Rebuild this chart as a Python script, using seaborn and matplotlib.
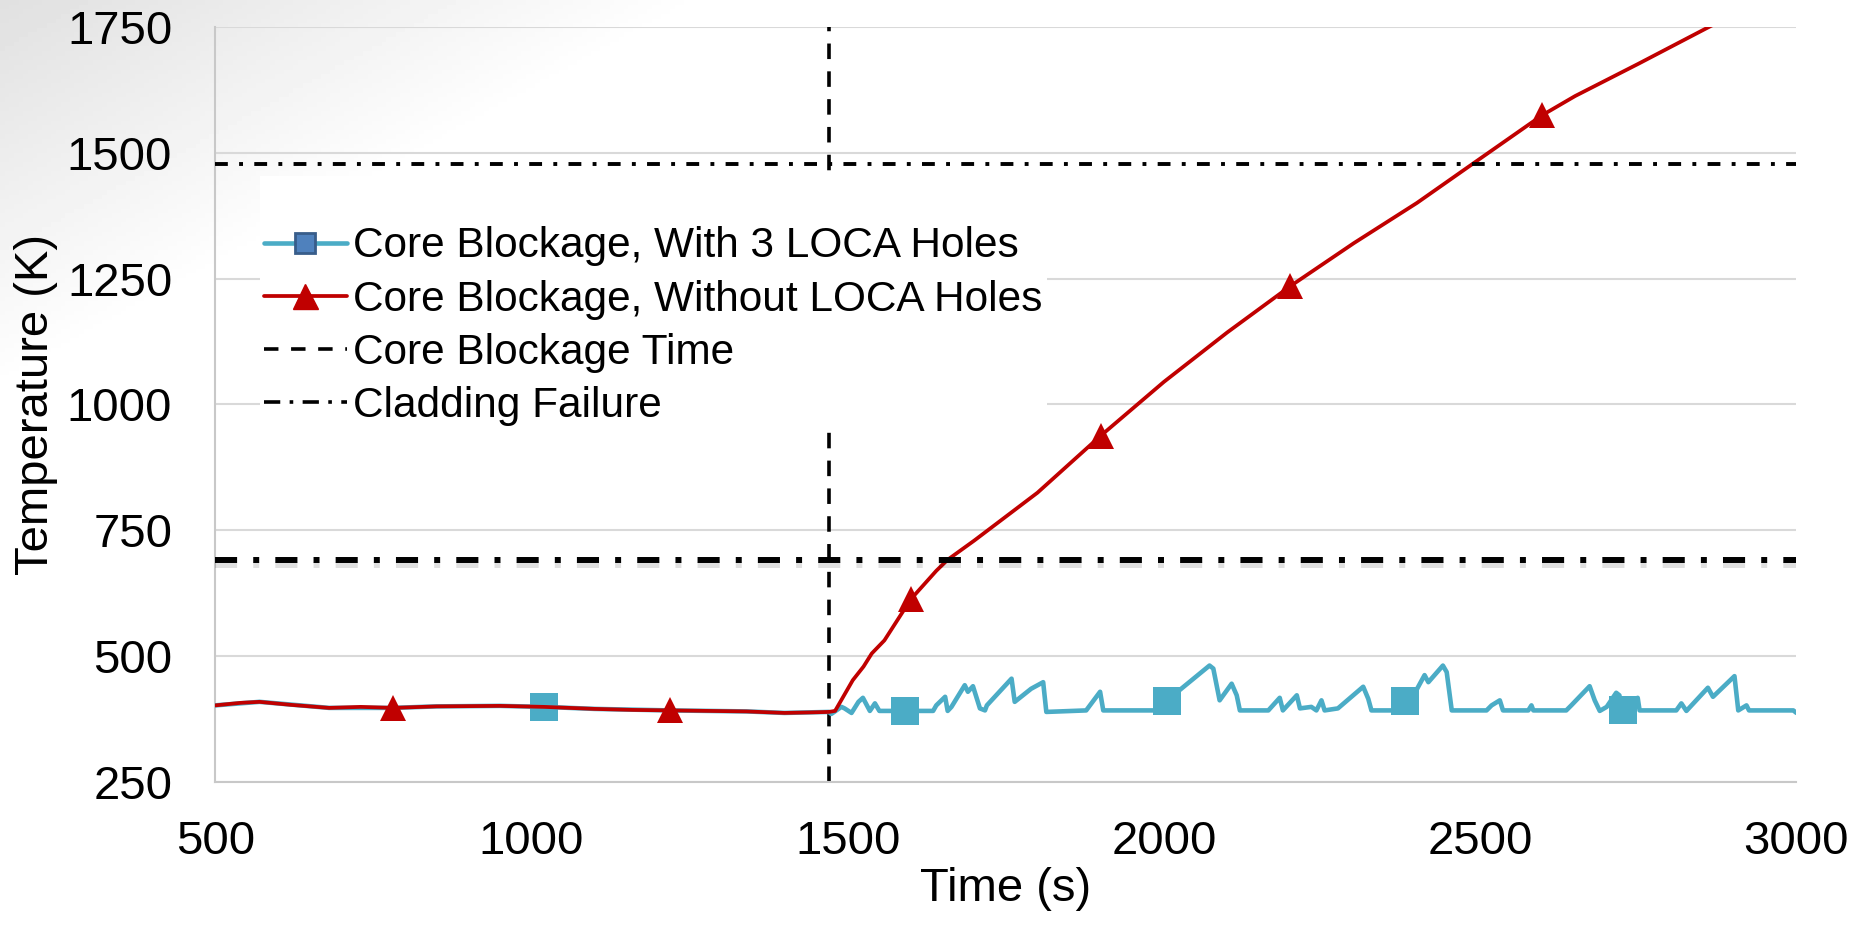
import numpy as np
import seaborn as sns
import matplotlib
matplotlib.use("Agg")
import matplotlib.pyplot as plt
import matplotlib.patheffects as pe
from matplotlib.lines import Line2D

# --- data ---
red_time = [500, 540, 570, 620, 680, 730, 781, 850, 950, 1020, 1100, 1160, 1219,
            1280, 1340, 1400, 1440, 1470, 1480, 1508, 1525, 1538, 1558, 1600, 1640,
            1658, 1700, 1800, 1900, 2000, 2100, 2200, 2300, 2400, 2500, 2598, 2650,
            2750, 2863, 3000]
red_temp = [403, 408, 410, 404, 398, 400, 398, 401, 402, 400, 396, 394, 393,
            392, 391, 388, 389, 390, 392, 453, 480, 506, 532, 614, 670,
            692, 730, 825, 938, 1045, 1143, 1235, 1320, 1400, 1488, 1574, 1612,
            1676, 1750, 1835]
red_marks = [781, 1219, 1600, 1900, 2200, 2598]

blue_time = [500, 570, 680, 781, 850, 950, 1020, 1100, 1219, 1340, 1400, 1470,
             1474, 1490, 1495, 1506, 1517, 1524, 1535, 1543, 1550, 1590, 1635, 1640,
             1654, 1658, 1664, 1685, 1690, 1698, 1709, 1717, 1720, 1759, 1764, 1790,
             1809, 1814, 1877, 1899, 1904, 1985, 2004, 2072, 2078, 2088, 2107, 2115,
             2120, 2165, 2183, 2188, 2210, 2215, 2233, 2241, 2249, 2254, 2275, 2315,
             2323, 2328, 2362, 2381, 2399, 2412, 2418, 2441, 2447, 2455, 2510, 2518,
             2531, 2536, 2576, 2581, 2584, 2636, 2644, 2673, 2681, 2689, 2700, 2715,
             2720, 2725, 2740, 2749, 2752, 2810, 2818, 2826, 2860, 2868, 2902, 2908,
             2921, 2925, 2995, 3000]
blue_temp = [403, 410, 398, 398, 401, 402, 400, 396, 393, 391, 388, 390,
             386, 400, 397, 388, 410, 418, 392, 407, 392, 392, 392, 403,
             420, 392, 400, 443, 430, 441, 397, 393, 403, 456, 410, 436,
             449, 390, 393, 430, 393, 393, 412, 482, 476, 413, 446, 423,
             393, 393, 418, 393, 423, 397, 400, 393, 413, 393, 397, 440,
             416, 393, 393, 411, 433, 463, 449, 482, 469, 393, 393, 403,
             413, 393, 393, 403, 393, 393, 403, 441, 413, 392, 400, 428,
             423, 394, 395, 418, 393, 393, 407, 392, 438, 420, 461, 393,
             403, 393, 393, 388]
blue_marks = [1020, 1590, 2004, 2381, 2725]

blockage_time = 1470
failure_temp_upper = 1477
failure_temp_lower = 692

labels = ["Core Blockage, With 3 LOCA Holes", "Core Blockage, Without LOCA Holes",
          "Core Blockage Time", "Cladding Failure"]

BLUE = "#4bacc6"
RED = "#c00000"
GRID = "#d9d9d9"
TICK = "#c8c8c8"

sns.set_style("white")
plt.rcParams["font.family"] = ["Liberation Sans", "DejaVu Sans"]
plt.rcParams["text.color"] = "black"
plt.rcParams["axes.labelcolor"] = "black"

fig = plt.figure(figsize=(18.62, 9.27), dpi=100)

# faint slide-style gradient in the top left corner
bg = fig.add_axes([0, 0, 1, 1], zorder=-10)
gx, gy = np.meshgrid(np.linspace(0, 1, 400), np.linspace(0, 1, 200))
shade = np.clip(1 - (gx / 0.38 + gy / 0.42), 0, 1)
bg.imshow(1 - 0.12 * shade, cmap="gray", vmin=0, vmax=1, aspect="auto",
          extent=[0, 1, 0, 1], origin="upper")
bg.axis("off")

ax = fig.add_axes([0.1156, 0.1559, 0.8492, 0.8155])
ax.patch.set_alpha(0)

blue_idx = [blue_time.index(t) for t in blue_marks]
red_idx = [red_time.index(t) for t in red_marks]

sns.lineplot(x=blue_time, y=blue_temp, ax=ax, color=BLUE, lw=3.3, estimator=None,
             marker="s", markersize=20, markevery=blue_idx,
             markerfacecolor=BLUE, markeredgecolor=BLUE, mew=0, zorder=3)
sns.lineplot(x=red_time, y=red_temp, ax=ax, color=RED, lw=2.7, estimator=None,
             marker="^", markersize=19, markevery=red_idx,
             markerfacecolor=RED, markeredgecolor=RED, mew=0, zorder=4)

ax.axvline(blockage_time, color="black", lw=2.6, dashes=(4.3, 3.4), zorder=2)
ax.axhline(failure_temp_upper, color="black", lw=2.8, dashes=(3.3, 2.9, 1, 2.9),
           zorder=5)
ax.axhline(failure_temp_lower, color="black", lw=4.3, dashes=(3.7, 2.7, 1, 2.7),
           zorder=5,
           path_effects=[pe.SimpleLineShadow(offset=(0, -4), shadow_color="black",
                                             alpha=0.12),
                         pe.Normal()])

ax.set_xlim(500, 3000)
ax.set_ylim(250, 1750)
ax.set_xticks([500, 1000, 1500, 2000, 2500, 3000])
ax.set_yticks([250, 500, 750, 1000, 1250, 1500, 1750])
ax.yaxis.grid(True, color=GRID, lw=1.5)
ax.xaxis.grid(False)
for side in ["top", "right"]:
    ax.spines[side].set_visible(False)
for side in ["left", "bottom"]:
    ax.spines[side].set_color(TICK)
    ax.spines[side].set_linewidth(1.5)
ax.tick_params(axis="both", direction="inout", length=20, width=1.2, color=TICK,
               labelsize=34, labelcolor="black")
ax.tick_params(axis="x", pad=17)
ax.tick_params(axis="y", pad=21)
ax.set_xlabel("Time (s)", fontsize=34, labelpad=2)
ax.set_ylabel("Temperature (K)", fontsize=34, labelpad=6)

handles = [
    Line2D([], [], color=BLUE, lw=3.3, marker="s", markersize=15,
           markerfacecolor="#4f81bd", markeredgecolor="#385d8a", mew=2),
    Line2D([], [], color=RED, lw=2.7, marker="^", markersize=18,
           markerfacecolor=RED, markeredgecolor=RED),
    Line2D([], [], color="black", lw=2.6, dashes=(4, 3.5)),
    Line2D([], [], color="black", lw=2.6, dashes=(4.5, 2.6, 1, 2.6)),
]
# empty title gives the white box the extra top margin seen in the original
leg = ax.legend(handles, labels, loc="upper left", bbox_to_anchor=(0.1396, 0.810),
                bbox_transform=fig.transFigure, fontsize=30.5, frameon=True,
                facecolor="white", edgecolor="none", framealpha=1, fancybox=False,
                borderpad=0.1, handlelength=1.95, handletextpad=0.15,
                labelspacing=0.31, borderaxespad=0, title=" ", title_fontsize=25)
leg.set_zorder(6)

fig.savefig("out.png", dpi=100)
